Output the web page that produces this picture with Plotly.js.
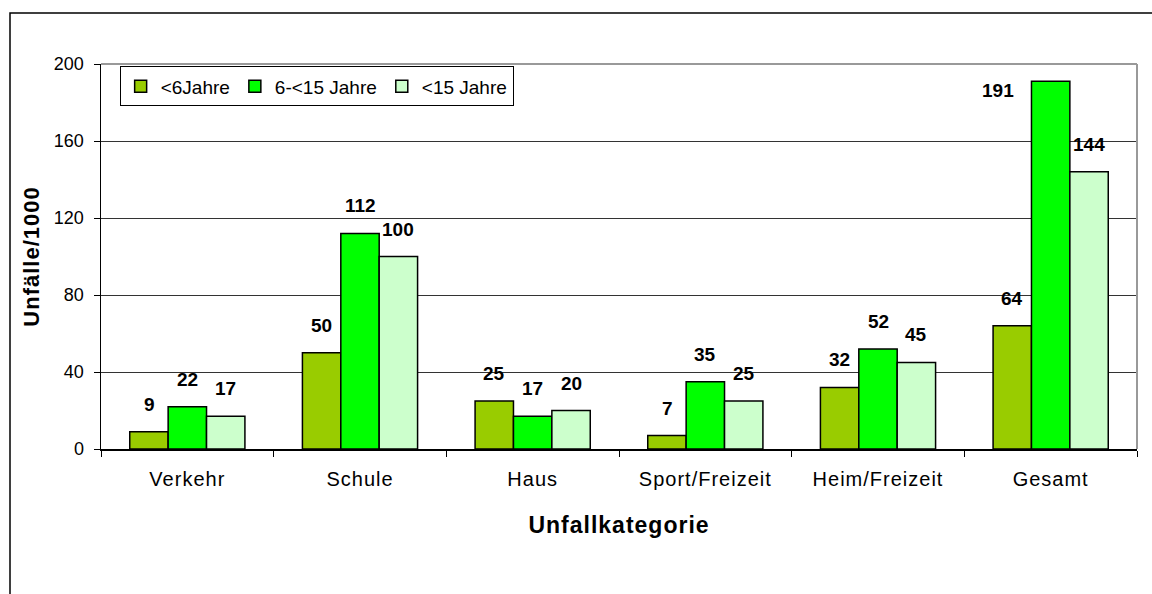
<!DOCTYPE html>
<html><head><meta charset="utf-8">
<script src="https://cdn.plot.ly/plotly-3.0.1.min.js"></script>
<style>
body{margin:0;background:#fff}#c{width:1152px;height:594px}
.xtitle,.ytitle{letter-spacing:1px}
.xtick text{letter-spacing:1px}
</style>
</head><body><div id="c"></div>
<script>
const categories = ["Verkehr","Schule","Haus","Sport/Freizeit","Heim/Freizeit","Gesamt"];
const seriesNames = ["<6Jahre","6-<15 Jahre","<15 Jahre"];
const under6 = [9,50,25,7,32,64];
const age6to15 = [22,112,17,35,52,191];
const under15 = [17,100,20,25,45,144];
const yTicks = [0,40,80,120,160,200];

const colors = ["#99CC00","#00FF00","#CCFFCC"];
const series = [under6, age6to15, under15];
const F = "Liberation Sans, Arial, sans-serif";

const traces = series.map((vals,i)=>({
  type:"bar", name:seriesNames[i], x:categories, y:vals,
  marker:{color:colors[i], line:{color:"#000", width:1.5}},
  hoverinfo:"skip"
}));

// data labels as annotations positioned by the axes
const annotations = [];
const offsets = [-1,0,1];
series.forEach((vals,i)=>{
  vals.forEach((v,j)=>{
    let ann = {x:j+offsets[i]*0.222, y:v, xref:"x", yref:"y", text:"<b>"+v+"</b>",
      showarrow:false, yanchor:"bottom", yshift:15, font:{family:F,size:19,color:"#000"}};
    if (v > 175) { ann.yshift = -22; ann.xshift = -53; }
    annotations.push(ann);
  });
});

const layout = {
  width:1152, height:594,
  margin:{l:101, r:15, t:64, b:145},
  paper_bgcolor:"#fff", plot_bgcolor:"#fff",
  bargap:0.333, bargroupgap:0,
  showlegend:true,
  legend:{orientation:"h", x:0.018, y:0.994, xanchor:"left", yanchor:"top",
    bordercolor:"#000", borderwidth:1, bgcolor:"#fff",
    font:{family:F,size:19,color:"#000"}, itemwidth:30, tracegroupgap:0},
  font:{family:F,size:18,color:"#000"},
  xaxis:{type:"category", tickson:"boundaries", ticks:"outside", ticklen:6, tickcolor:"#000",
    showline:true, linecolor:"#000", linewidth:1.5, showgrid:false, ticklabelstandoff:11,
    tickfont:{family:F,size:20,color:"#000"},
    title:{text:"<b>Unfallkategorie</b>", font:{family:F,size:23,color:"#000"}, standoff:28}},
  yaxis:{range:[0,200], tickvals:yTicks, ticks:"outside", ticklen:6, tickcolor:"#000",
    showline:true, linecolor:"#000", linewidth:1.5, showgrid:true, gridcolor:"#333", gridwidth:1,
    zeroline:false, ticklabelstandoff:6, tickfont:{family:F,size:18,color:"#000"},
    title:{text:"<b>Unfälle/1000</b>", font:{family:F,size:22,color:"#000"}, standoff:8}},
  annotations:annotations,
  shapes:[
    {type:"line", xref:"paper", yref:"paper", x0:0, x1:1, y0:1, y1:1, line:{color:"#999",width:2}},
    {type:"line", xref:"paper", yref:"paper", x0:1, x1:1, y0:0, y1:1, line:{color:"#999",width:2}},
    {type:"rect", xref:"paper", yref:"paper", x0:(10-101)/1036, x1:1.1, y0:-0.5, y1:(449-13)/385,
      line:{color:"#000",width:1.5}, fillcolor:"rgba(0,0,0,0)", layer:"below"}
  ]
};
Plotly.newPlot("c", traces, layout, {displayModeBar:false, staticPlot:true});
</script></body></html>
